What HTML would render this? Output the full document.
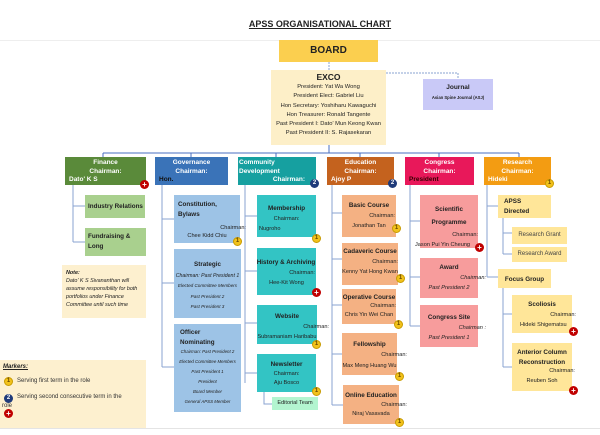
<!DOCTYPE html><html><head><meta charset="utf-8"><style>
*{margin:0;padding:0;box-sizing:border-box}
body{width:600px;height:435px;background:#fff;position:relative;overflow:hidden;font-family:"Liberation Sans","DejaVu Sans",sans-serif;color:#222}
.a{position:absolute}
.bx{position:absolute;font-size:5.6px;line-height:1.45}
.t{font-weight:bold;font-size:6.3px}
.h{position:absolute;color:#fff;font-weight:bold;font-size:6.5px;line-height:8.6px;padding:2px 4px 0}
.m{position:absolute;width:9px;height:9px;border-radius:50%;font-size:6px;line-height:9px;text-align:center;font-weight:bold}
.y{background:#f2c21b;color:#6a4a00;border:1px solid #c89b00;line-height:7px}
.n{background:#1f3b7a;color:#fff}
.r{background:#c00000;color:#fff;font-size:8px}
.c{text-align:center}.rt{text-align:right}.i{font-style:italic}
</style></head><body>
<div class="a" style="left:0;top:40px;width:600px;height:1px;background:#eee"></div>
<div class="a" style="left:0;top:428px;width:600px;height:1px;background:#e4e4e4"></div>
<div class="a c" style="left:240px;top:19px;width:160px;font-size:9px;font-weight:bold;text-decoration:underline">APSS ORGANISATIONAL CHART</div>
<svg class="a" style="left:0;top:0" width="600" height="435">
<g stroke="#8aa3d2" stroke-width="1" fill="none">
<path d="M329 62V70" stroke-dasharray="2,1"/>
<path d="M386 73H458V79" stroke-dasharray="2,1"/>
<path d="M329 145V153M103 153H519M103 153V157M191 153V157M276 153V157M360 153V157M439 153V157M519 153V157" stroke="#4a6fc0"/>
<path d="M73 185V242M73 206H85M73 242H85"/>
<path d="M162 185V367M162 219H174M162 283H174M162 367H174"/>
<path d="M245 185V383M245 216H257M245 271H257M245 323H257M245 373H257M264 392V404H272"/>
<path d="M332 185V405M332 213H342M332 259H342M332 305H342M332 354H342M332 405H343"/>
<path d="M410 185V326M410 221H420M410 277H420M410 326H420"/>
<path d="M487 185V277M487 206H498M487 277H498M503 218V254M503 233H512M503 254H512M503 288V367M503 314H512M503 367H512"/>
</g></svg>
<div class="bx c t" style="left:279px;top:40px;width:99px;height:22px;background:#fbcf4f;font-size:10px;line-height:22px">BOARD</div>
<div class="bx c" style="left:271px;top:70px;width:115px;height:75px;background:#fdefc8;line-height:9.3px;font-size:5.8px;padding-top:2px"><div class="t" style="font-size:8.5px;line-height:11px">EXCO</div>President: Yat Wa Wong<br>President Elect: Gabriel Liu<br>Hon Secretary: Yoshiharu Kawaguchi<br>Hon Treasurer: Ronald Tangente<br>Past President I: Dato' Mun Keong Kwan<br>Past President II: S. Rajasekaran</div>
<div class="bx c" style="left:423px;top:79px;width:70px;height:31px;background:#c9c9f7;padding-top:4px"><div class="t" style="font-size:6.5px">Journal</div><div style="font-size:4.2px;font-weight:bold;margin-top:3px">Asian Spine Journal (ASJ)</div></div>

<div class="h c" style="left:65px;top:157px;width:81px;height:28px;background:#5a8a3a">Finance<br>Chairman:<div style="text-align:left">Dato' K S</div></div>
<div class="h c" style="left:155px;top:157px;width:73px;height:28px;background:#3a73b8">Governance<br>Chairman:<div style="text-align:left;color:#111">Hon.</div></div>
<div class="h" style="left:238px;top:157px;width:78px;height:28px;background:#16a0a0;padding:2px 1px 0">Community<br>Development<div style="text-align:right;padding-right:10px">Chairman:</div></div>
<div class="h c" style="left:327px;top:157px;width:67px;height:28px;background:#c4621e">Education<br>Chairman:<div style="text-align:left">Ajoy P</div></div>
<div class="h c" style="left:405px;top:157px;width:69px;height:28px;background:#e8185a">Congress<br>Chairman:<div style="text-align:left;color:#300">President</div></div>
<div class="h c" style="left:484px;top:157px;width:67px;height:28px;background:#f39c12">Research<br>Chairman:<div style="text-align:left">Hideki</div></div>

<div class="bx t" style="left:85px;top:195px;width:60px;height:23px;background:#a9d08e;padding:7px 3px;white-space:nowrap">Industry Relations</div>
<div class="bx t" style="left:85px;top:228px;width:61px;height:28px;background:#a9d08e;padding:4px 3px;line-height:10px">Fundraising &amp;<br>Long</div>
<div class="bx i" style="left:62px;top:265px;width:84px;height:53px;background:#fdf0cf;padding:4px;line-height:8px;font-size:5.4px"><b>Note:</b><br>Dato' K S Sivananthan will assume responsibility for both<br>portfolios under Finance Committee until such time</div>

<div class="bx" style="left:174px;top:195px;width:66px;height:48px;background:#9dc3e6;padding:5px 4px"><div class="t" style="line-height:10px">Constitution,<br>Bylaws</div><div class="rt" style="margin-right:-10px;margin-top:4px">Chairman:</div><div class="c">Chee Kidd Chiu</div></div>
<div class="bx c" style="left:174px;top:249px;width:67px;height:69px;background:#9dc3e6;padding-top:11px;font-size:4.6px;line-height:10.5px"><div class="t">Strategic</div><i style="font-size:5.2px">Chairman: Past President 1</i><br><i>Elected Committee Members</i><br><i>Past President 2</i><br><i>Past President 3</i></div>
<div class="bx c" style="left:174px;top:324px;width:67px;height:88px;background:#9dc3e6;padding-top:4px;font-size:4.4px;line-height:10px"><div class="t" style="text-align:left;padding-left:6px;line-height:9.5px">Officer<br>Nominating</div><i>Chairman: Past President 2<br>Elected Committee Members<br>Past President 1<br>President<br>Board Member<br>General APSS Member</i></div>

<div class="bx c" style="left:257px;top:195px;width:59px;height:42px;background:#33c4c4;padding-top:9px;line-height:10px"><div class="t">Membership</div>Chairman:<div style="text-align:left;padding-left:2px">Nugroho</div></div>
<div class="bx c" style="left:257px;top:248px;width:59px;height:47px;background:#33c4c4;padding-top:10px;line-height:10px"><div class="t" style="white-space:nowrap;margin-left:-1px">History &amp; Archiving</div><div class="rt" style="padding-right:1px">Chairman:</div>Hee-Kit Wong</div>
<div class="bx c" style="left:257px;top:305px;width:60px;height:39px;background:#33c4c4;padding-top:7px;line-height:10px"><div class="t">Website</div><div class="rt" style="margin-right:-12px">Chairman:</div><div style="white-space:nowrap">Subramaniam Haribabu</div></div>
<div class="bx c" style="left:257px;top:354px;width:59px;height:38px;background:#33c4c4;padding-top:6px;line-height:9.5px"><div class="t">Newsletter</div>Chairman:<br>Aju Bosco</div>
<div class="bx c" style="left:272px;top:397px;width:46px;height:13px;background:#b3f5d0;line-height:13px">Editorial Team</div>

<div class="bx" style="left:342px;top:195px;width:54px;height:42px;background:#f4b183;padding-top:6px;line-height:10px"><div class="t c">Basic Course</div><div class="rt" style="padding-right:1px">Chairman:</div><div class="c">Jonathan Tan</div></div>
<div class="bx" style="left:342px;top:243px;width:56px;height:42px;background:#f4b183;padding-top:4px;line-height:10px"><div class="t c">Cadaveric Course</div><div class="rt" style="padding-right:0">Chairman:</div><div class="c" style="white-space:nowrap">Kenny Yat Hong Kwan</div></div>
<div class="bx" style="left:342px;top:289px;width:54px;height:35px;background:#f4b183;padding-top:4px;line-height:9px"><div class="t c" style="white-space:nowrap">Operative Course</div><div class="rt">Chairman:</div><div class="c" style="white-space:nowrap">Chris Yin Wei Chan</div></div>
<div class="bx" style="left:342px;top:333px;width:55px;height:42px;background:#f4b183;padding-top:6px;line-height:11px"><div class="t c">Fellowship</div><div class="rt" style="margin-right:-10px">Chairman:</div><div class="c" style="white-space:nowrap">Max Meng Huang Wu</div></div>
<div class="bx" style="left:343px;top:385px;width:56px;height:39px;background:#f4b183;padding-top:6px;line-height:9.5px"><div class="t c" style="white-space:nowrap">Online Education</div><div class="rt" style="margin-right:-8px">Chairman:</div><div class="c">Niraj Vasavada</div></div>

<div class="bx" style="left:420px;top:195px;width:58px;height:53px;background:#f79c9c;padding-top:8px;line-height:13px"><div class="t c">Scientific<br>Programme</div><div class="rt" style="line-height:12px">Chairman:</div><div style="white-space:nowrap;margin-left:-5px;line-height:8px">Jason Pui Yin Cheung</div></div>
<div class="bx" style="left:420px;top:258px;width:58px;height:40px;background:#f79c9c;padding-top:5px;line-height:10px"><div class="t c">Award</div><div class="rt i" style="margin-right:-8px">Chairman:</div><div class="c i">Past President 2</div></div>
<div class="bx" style="left:420px;top:305px;width:58px;height:42px;background:#f79c9c;padding-top:8px;line-height:10px"><div class="t c">Congress Site</div><div class="rt i" style="margin-right:-8px">Chairman :</div><div class="c i">Past President 1</div></div>

<div class="bx t" style="left:498px;top:195px;width:53px;height:23px;background:#ffe699;padding:2px 6px;line-height:9.5px">APSS<br>Directed</div>
<div class="bx c" style="left:512px;top:227px;width:55px;height:17px;background:#ffe699;line-height:17px;font-size:6px;color:#444">Research Grant</div>
<div class="bx c" style="left:512px;top:247px;width:55px;height:15px;background:#ffe699;line-height:15px;font-size:6px;color:#444">Research Award</div>
<div class="bx t c" style="left:498px;top:269px;width:53px;height:19px;background:#ffe699;line-height:21px">Focus Group</div>
<div class="bx" style="left:512px;top:295px;width:60px;height:38px;background:#ffe699;padding-top:5px;line-height:10px"><div class="t c">Scoliosis</div><div class="rt" style="margin-right:-4px">Chairman:</div><div style="white-space:nowrap;padding-left:8px">Hideki Shigematsu</div></div>
<div class="bx" style="left:512px;top:343px;width:60px;height:48px;background:#ffe699;padding-top:5px;line-height:9.5px"><div class="t c" style="white-space:nowrap">Anterior Column<br>Reconstruction</div><div class="rt" style="margin-right:-3px">Chairman:</div><div class="c">Reuben Soh</div></div>

<div class="bx" style="left:0;top:360px;width:146px;height:68px;background:#fdf0cf;padding:3px 3px;font-size:6px;line-height:8px"><b><i><u>Markers:</u></i></b></div>
<div class="bx" style="left:17px;top:377px;font-size:6px;color:#333">Serving first term in the role</div>
<div class="bx" style="left:17px;top:394px;font-size:6px;color:#333;width:130px;line-height:7px;white-space:nowrap">Serving second consecutive term in the</div>
<div class="bx" style="left:2px;top:402px;font-size:6px;color:#333">role</div>
<div class="m y" style="left:4px;top:377px">1</div>
<div class="m n" style="left:4px;top:394px">2</div>
<div class="m r" style="left:4px;top:409px">+</div>

<div class="m r" style="left:140px;top:180px">+</div>
<div class="m n" style="left:310px;top:179px">2</div>
<div class="m n" style="left:388px;top:179px">2</div>
<div class="m y" style="left:545px;top:179px">1</div>
<div class="m y" style="left:233px;top:237px">1</div>
<div class="m y" style="left:312px;top:234px">1</div>
<div class="m r" style="left:312px;top:288px">+</div>
<div class="m y" style="left:312px;top:340px">1</div>
<div class="m y" style="left:312px;top:387px">1</div>
<div class="m y" style="left:392px;top:224px">1</div>
<div class="m y" style="left:396px;top:274px">1</div>
<div class="m y" style="left:394px;top:320px">1</div>
<div class="m y" style="left:395px;top:372px">1</div>
<div class="m y" style="left:395px;top:418px">1</div>
<div class="m r" style="left:475px;top:243px">+</div>
<div class="m r" style="left:569px;top:327px">+</div>
<div class="m r" style="left:569px;top:386px">+</div>
</body></html>
